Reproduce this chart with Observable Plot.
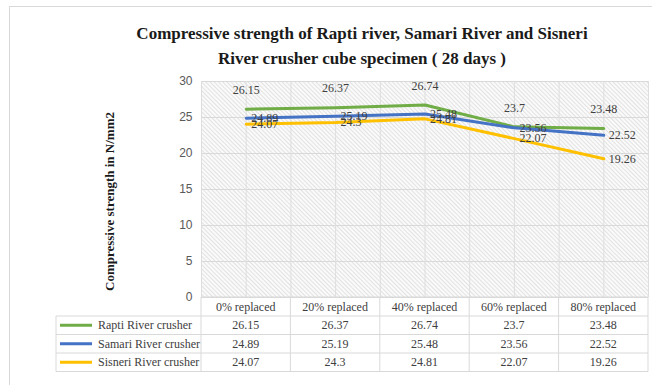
<!DOCTYPE html>
<html>
<head>
<meta charset="utf-8">
<script src="https://cdn.jsdelivr.net/npm/d3@7"></script>
<script src="https://cdn.jsdelivr.net/npm/@observablehq/plot@0.6"></script>
<style>
  body { margin: 0; background: #fff; }
  #wrap { position: relative; width: 652px; height: 385px; overflow: hidden; background: #fff; }
  #edge { position: absolute; left: 9px; top: 6px; right: -2px; bottom: -2px;
          border-top: 1px solid #d9d9d9; border-left: 1px solid #d9d9d9; }
  #title { position: absolute; left: 100px; width: 524px; top: 21px; text-align: center;
           font: bold 17px "Liberation Serif", serif; line-height: 25px; color: #1a1a1a; }
  #chart { position: absolute; left: 0; top: 0; }
</style>
</head>
<body>
<div id="wrap">
  <div id="edge"></div>
  <div id="chart"></div>
  <div id="title">Compressive strength of Rapti river, Samari River and Sisneri<br>River crusher cube specimen ( 28 days )</div>
</div>
<script>
// Replacement levels along the x axis
const categories = ["0% replaced", "20% replaced", "40% replaced", "60% replaced", "80% replaced"];

// 28-day compressive strength (N/mm2) for each crusher source
const rapti   = [26.15, 26.37, 26.74, 23.7, 23.48];
const samari  = [24.89, 25.19, 25.48, 23.56, 22.52];
const sisneri = [24.07, 24.3, 24.81, 22.07, 19.26];

const seriesNames  = ["Rapti River crusher", "Samari River crusher", "Sisneri River crusher"];
const seriesValues = [rapti, samari, sisneri];
const seriesColors = ["#70ad47", "#4472c4", "#ffc000"];

const yTicks = [0, 5, 10, 15, 20, 25, 30];
const yLabel = "Compressive strength in N/mm2";

// Long-format rows for the line and label marks
const rows = seriesNames.flatMap((name, s) =>
  seriesValues[s].map((value, i) => ({series: name, i, value}))
);

const labelFont = {fontFamily: "Liberation Serif", fontSize: 12, fill: "#404040"};

const chart = Plot.plot({
  width: 652,
  height: 385,
  marginLeft: 201,
  marginRight: 4,
  marginTop: 81,
  marginBottom: 88,
  style: {fontFamily: "Liberation Serif", background: "transparent", overflow: "visible"},
  x: {domain: [-0.5, categories.length - 0.5], axis: null},
  y: {domain: [0, 30], axis: null},
  color: {domain: seriesNames, range: seriesColors},
  marks: [
    Plot.frame({fill: "url(#hatch)", stroke: null}),
    Plot.gridY(yTicks, {stroke: "#d9d9d9", strokeOpacity: 1}),
    Plot.gridX(d3.range(-0.5, categories.length, 0.5), {stroke: "#dedede", strokeOpacity: 1}),
    Plot.axisY(yTicks, {tickSize: 0, tickPadding: 9, label: null, fontFamily: "Liberation Sans", fontSize: 12, fill: "#595959"}),
    Plot.text([yLabel], {frameAnchor: "left", textAnchor: "middle", dx: -92, dy: 12, rotate: -90,
      fontFamily: "Liberation Serif", fontWeight: "bold", fontSize: 13, fill: "#1a1a1a"}),
    Plot.line(rows, {x: "i", y: "value", z: "series", stroke: "series", strokeWidth: 3}),
    Plot.text(rows.filter(d => d.series === seriesNames[0]),
      {x: "i", y: "value", text: d => String(d.value), dy: -19, ...labelFont}),
    Plot.text(rows.filter(d => d.series !== seriesNames[0]),
      {x: "i", y: "value", text: d => String(d.value), textAnchor: "start", dx: 5, ...labelFont})
  ]
});

document.getElementById("chart").appendChild(chart);

const svg = d3.select(chart);

// Fine diagonal hatch used as the plot background
const pattern = svg.insert("defs", ":first-child").append("pattern")
  .attr("id", "hatch").attr("patternUnits", "userSpaceOnUse")
  .attr("width", 3).attr("height", 3).attr("patternTransform", "rotate(-45)");
pattern.append("rect").attr("width", 3).attr("height", 3).attr("fill", "#fafafa");
pattern.append("rect").attr("x", 0).attr("y", 0).attr("width", 1).attr("height", 3)
  .attr("fill", "#e2e2e2");

// Data table under the plot, columns aligned with the x scale
const xs = chart.scale("x");
const ys = chart.scale("y");
const tableTop = ys.apply(0);
const headerH = 19;
const rowH = 18.5;
const legendLeft = 56;
const colEdges = d3.range(categories.length + 1).map(i => xs.apply(i - 0.5));
const tableRight = colEdges[colEdges.length - 1];
const rowTops = seriesNames.map((_, s) => tableTop + headerH + s * rowH);
const tableBottom = tableTop + headerH + seriesNames.length * rowH;

const table = svg.append("g")
  .attr("font-family", "Liberation Serif").attr("font-size", 12).attr("fill", "#404040");
const borders = table.append("g").attr("stroke", "#d9d9d9").attr("stroke-width", 1);

borders.append("line").attr("x1", colEdges[0]).attr("x2", tableRight).attr("y1", tableTop).attr("y2", tableTop);
[...rowTops, tableBottom].forEach(y =>
  borders.append("line").attr("x1", legendLeft).attr("x2", tableRight).attr("y1", y).attr("y2", y));
borders.append("line").attr("x1", legendLeft).attr("x2", legendLeft).attr("y1", rowTops[0]).attr("y2", tableBottom);
colEdges.forEach(x =>
  borders.append("line").attr("x1", x).attr("x2", x).attr("y1", tableTop).attr("y2", tableBottom));

categories.forEach((c, i) =>
  table.append("text").attr("x", xs.apply(i)).attr("y", tableTop + headerH / 2)
    .attr("text-anchor", "middle").attr("dominant-baseline", "central").text(c));

seriesNames.forEach((name, s) => {
  const cy = rowTops[s] + rowH / 2;
  table.append("line").attr("x1", legendLeft + 4).attr("x2", legendLeft + 36)
    .attr("y1", cy).attr("y2", cy).attr("stroke", seriesColors[s]).attr("stroke-width", 3);
  table.append("text").attr("x", legendLeft + 42).attr("y", cy)
    .attr("text-anchor", "start").attr("dominant-baseline", "central").text(name);
  seriesValues[s].forEach((v, i) =>
    table.append("text").attr("x", xs.apply(i)).attr("y", cy)
      .attr("text-anchor", "middle").attr("dominant-baseline", "central").text(String(v)));
});
</script>
</body>
</html>
